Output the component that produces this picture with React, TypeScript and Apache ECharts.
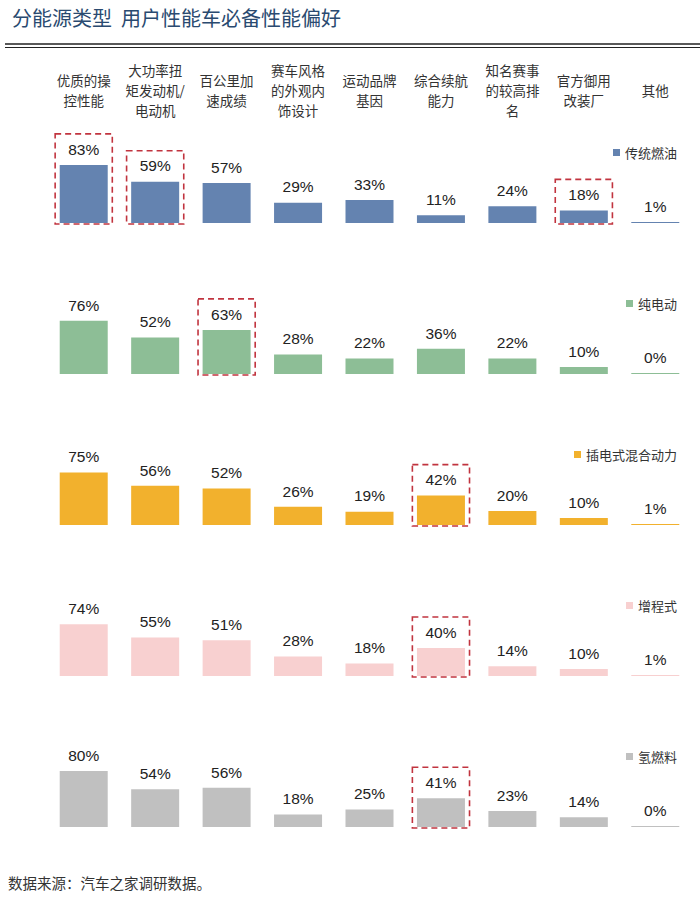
import React, { useEffect, useRef } from "react";
import * as echarts from "echarts";

const categories = [
  "优质的操\n控性能",
  "大功率扭\n矩发动机/\n电动机",
  "百公里加\n速成绩",
  "赛车风格\n的外观内\n饰设计",
  "运动品牌\n基因",
  "综合续航\n能力",
  "知名赛事\n的较高排\n名",
  "官方御用\n改装厂",
  "其他",
];

const seriesNames = ["传统燃油", "纯电动", "插电式混合动力", "增程式", "氢燃料"];

const fuelValues = [83, 59, 57, 29, 33, 11, 24, 18, 1];
const evValues = [76, 52, 63, 28, 22, 36, 22, 10, 0];
const phevValues = [75, 56, 52, 26, 19, 42, 20, 10, 1];
const erevValues = [74, 55, 51, 28, 18, 40, 14, 10, 1];
const h2Values = [80, 54, 56, 18, 25, 41, 23, 14, 0];

const rowValues = [fuelValues, evValues, phevValues, erevValues, h2Values];

// highlighted (red dashed box) column indexes per row
const highlights = [[0, 1, 7], [2], [5], [5], [5]];

const colors = ["#6483B0", "#8DBE96", "#F2B12D", "#F8D0D0", "#C0C0C0"];

const title = "分能源类型  用户性能车必备性能偏好";
const source = "数据来源：汽车之家调研数据。";

const FONT = "'Liberation Sans', 'Noto Sans CJK SC', sans-serif";
const CJK = "'Noto Sans CJK SC', sans-serif";

export default function App() {
  const ref = useRef<HTMLDivElement>(null);

  useEffect(() => {
    document.body.style.margin = "0";
    const chart = echarts.init(ref.current!, null, { renderer: "svg" });

    const gridLeft = 48;
    const gridWidth = 643;
    const rowBottoms = [223, 374, 525, 676, 827];
    const rowH = 70;

    const grids: any[] = [];
    const xAxes: any[] = [];
    const yAxes: any[] = [];
    const series: any[] = [];
    const legends: any[] = [];

    rowValues.forEach((vals, i) => {
      grids.push({ left: gridLeft, width: gridWidth, top: rowBottoms[i] - rowH, height: rowH });
      xAxes.push({ type: "category", gridIndex: i, data: categories, show: false });
      yAxes.push({ type: "value", gridIndex: i, min: 0, max: 100, show: false });
      series.push({
        name: seriesNames[i],
        type: "bar",
        xAxisIndex: i,
        yAxisIndex: i,
        data: vals,
        barWidth: 48,
        barMinHeight: 1,
        itemStyle: { color: colors[i] },
        label: {
          show: true,
          position: "top",
          distance: 8,
          formatter: "{c}%",
          fontSize: 15.5,
          color: "#222",
          fontFamily: FONT,
        },
      });
      series.push({
        name: "hl" + i,
        type: "custom",
        xAxisIndex: i,
        yAxisIndex: i,
        z: 5,
        data: highlights[i].map((c) => [c, vals[c]]),
        encode: { x: 0, y: 1 },
        renderItem: (params: any, api: any) => {
          const top = api.coord([api.value(0), api.value(1)]);
          const base = api.coord([api.value(0), 0]);
          const w = api.size([1, 0])[0] * 0.8;
          return {
            type: "rect",
            shape: {
              x: top[0] - w / 2,
              y: top[1] - 31,
              width: w,
              height: base[1] - top[1] + 32,
            },
            style: {
              fill: "none",
              stroke: "#C1343F",
              lineWidth: 1.6,
              lineDash: [6, 4],
            },
          };
        },
      });
      legends.push({
        data: [seriesNames[i]],
        right: 18,
        top: rowBottoms[i] - 74 - 8,
        icon: "rect",
        itemWidth: 7,
        itemHeight: 7,
        textStyle: { fontSize: 13, color: "#333", fontFamily: CJK },
        selectedMode: false,
      });
    });

    // header grid for category labels
    grids.push({ left: gridLeft, width: gridWidth, top: 89, height: 1 });
    xAxes.push({
      type: "category",
      gridIndex: 5,
      data: categories,
      axisLine: { show: false },
      axisTick: { show: false },
      axisLabel: {
        interval: 0,
        margin: 0,
        fontSize: 13.5,
        lineHeight: 19.6,
        color: "#333",
        verticalAlign: "middle",
        align: "center",
        fontFamily: CJK,
      },
    });
    yAxes.push({ type: "value", gridIndex: 5, show: false });

    chart.setOption({
      animation: false,
      backgroundColor: "#fff",
      grid: grids,
      xAxis: xAxes,
      yAxis: yAxes,
      legend: legends,
      series,
      graphic: [
        {
          type: "text",
          left: 12,
          top: 7,
          style: { text: title, fontSize: 20, fill: "#2A4A70", fontFamily: CJK },
        },
        {
          type: "line",
          shape: { x1: 5, y1: 44, x2: 700, y2: 44 },
          style: { stroke: "#222", lineWidth: 1.6 },
        },
        {
          type: "line",
          shape: { x1: 5, y1: 47.5, x2: 700, y2: 47.5 },
          style: { stroke: "#222", lineWidth: 1 },
        },
        {
          type: "text",
          left: 8,
          top: 875,
          style: { text: source, fontSize: 14.5, fill: "#333", fontFamily: CJK },
        },
      ],
    });

    return () => chart.dispose();
  }, []);

  return <div ref={ref} style={{ width: 700, height: 900 }} />;
}
